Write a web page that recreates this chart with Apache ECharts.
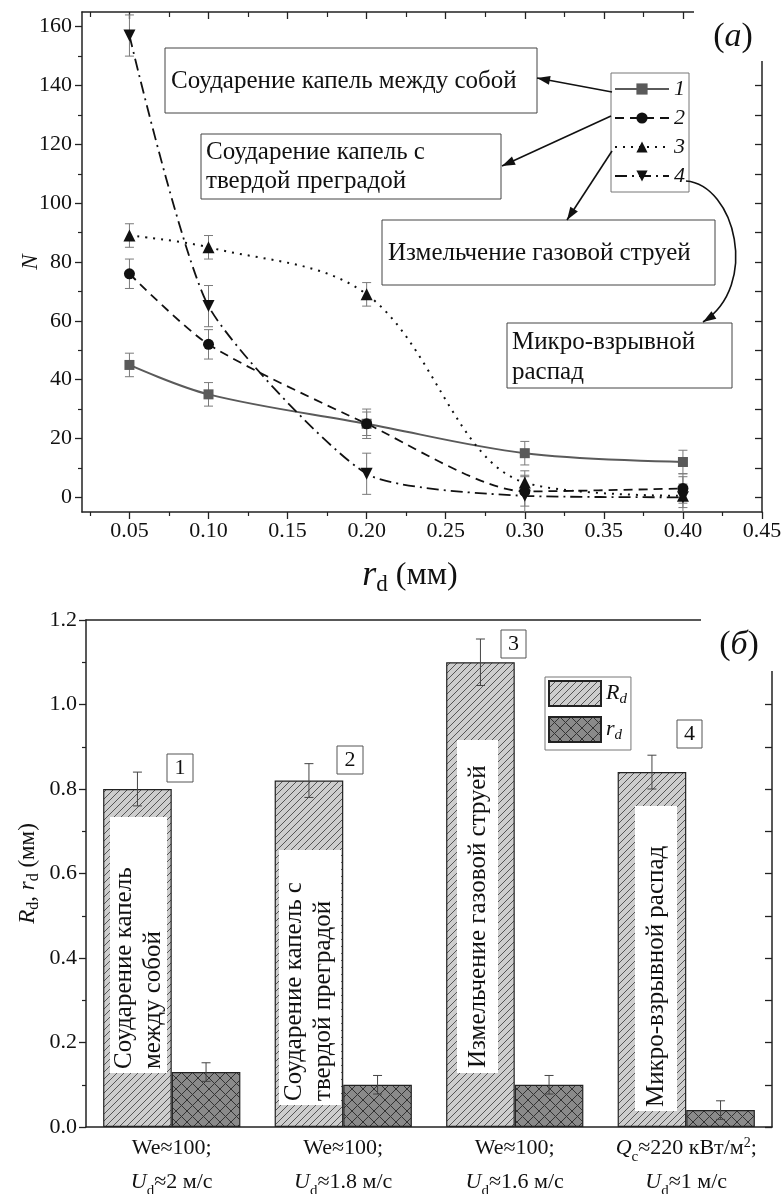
<!DOCTYPE html>
<html><head><meta charset="utf-8">
<script src="https://cdn.jsdelivr.net/npm/echarts@6/dist/echarts.min.js"></script>
<style>html,body{margin:0;padding:0;background:#fff}#c{width:782px;height:1194px}</style>
</head><body><div id="c"></div>
<script>
// ---------- Panel (а): number of child droplets N vs r_d ----------
const rdValues = [0.05, 0.10, 0.20, 0.30, 0.40];
const n1 = [45, 35, 25, 15, 12];
const n1Err = [4, 4, 4, 4, 4];
const n2 = [76, 52, 25, 2, 3];
const n2Err = [5, 5, 5, 5, 5];
const n3 = [89, 85, 69, 5, 0.5];
const n3Err = [4, 4, 4, 4, 4];
const n4 = [157, 65, 8, 0.5, 0];
const n4Err = [7, 7, 7, 7, 7];
const seriesNamesA = ['1', '2', '3', '4'];
const xTicksA = [0.05, 0.10, 0.15, 0.20, 0.25, 0.30, 0.35, 0.40, 0.45];
const xMinorA = [0.025, 0.075, 0.125, 0.175, 0.225, 0.275, 0.325, 0.375, 0.425];
const yTicksA = [0, 20, 40, 60, 80, 100, 120, 140, 160];
const yMinorA = [10, 30, 50, 70, 90, 110, 130, 150];
const yRightA = [0, 10, 20, 30, 40, 50, 60, 70, 80, 90, 100, 110, 120, 130, 140, 150, 160];
const annotA = ['Соударение капель между собой', 'Соударение капель с\nтвердой преградой', 'Измельчение газовой струей', 'Микро-взрывной\nраспад'];

// ---------- Panel (б): R_d, r_d per mechanism ----------
const categoriesB = ['We≈100;\nU_d≈2 м/с', 'We≈100;\nU_d≈1.8 м/с', 'We≈100;\nU_d≈1.6 м/с', 'Q_c≈220 кВт/м^2;\nU_d≈1 м/с'];
const bigR = [0.80, 0.82, 1.10, 0.84];
const bigRErr = [0.04, 0.04, 0.055, 0.04];
const smallR = [0.13, 0.10, 0.10, 0.04];
const smallRErr = [0.022, 0.022, 0.022, 0.022];
const seriesNamesB = ['R_d', 'r_d'];
const annotB = ['Соударение капель\nмежду собой', 'Соударение капель с\nтвердой преградой', 'Измельчение газовой струей', 'Микро-взрывной распад'];
const numbersB = ['1', '2', '3', '4'];

const SERIF = '"Liberation Serif","Times New Roman",serif';
const AX = '#222';

// rich text helper: "X_y" -> italic X + subscript y ; "^2" -> superscript
function toRich(s) {
  return s.split('\n').map(line => {
    let out = '', buf = '';
    const flush = () => { if (buf) { out += '{n|' + buf + '}'; buf = ''; } };
    for (let i = 0; i < line.length; i++) {
      const ch = line[i];
      if (line[i + 1] === '_') { flush(); out += '{i|' + ch + '}{s|' + line[i + 2] + '}'; i += 2; }
      else if (ch === '^') { flush(); out += '{p|' + line[i + 1] + '}'; i += 1; }
      else buf += ch;
    }
    flush();
    return out;
  }).join('\n');
}
function richStyles(size, lh, subItalic) {
  return {
    n: { fontFamily: SERIF, fontSize: size, lineHeight: lh, color: '#111' },
    i: { fontFamily: SERIF, fontSize: size, lineHeight: lh, fontStyle: 'italic', color: '#111' },
    s: { fontFamily: SERIF, fontSize: Math.round(size * 0.68), lineHeight: Math.round(size * 0.5), verticalAlign: 'bottom', color: '#111', fontStyle: subItalic ? 'italic' : 'normal' },
    p: { fontFamily: SERIF, fontSize: Math.round(size * 0.62), lineHeight: Math.round(size * 0.62), verticalAlign: 'middle', padding: [0, 0, Math.round(size * 0.4), 0], color: '#111' }
  };
}

function hatchPattern(bg, fg, step, cross, lw) {
  const c = document.createElement('canvas');
  c.width = step; c.height = step;
  const g = c.getContext('2d');
  g.fillStyle = bg; g.fillRect(0, 0, step, step);
  g.strokeStyle = fg; g.lineWidth = lw;
  g.beginPath();
  g.moveTo(-1, step + 1); g.lineTo(step + 1, -1);
  g.moveTo(-1, 1); g.lineTo(1, -1);
  g.moveTo(step - 1, step + 1); g.lineTo(step + 1, step - 1);
  if (cross) {
    g.moveTo(-1, -1); g.lineTo(step + 1, step + 1);
    g.moveTo(step - 1, -1); g.lineTo(step + 1, 1);
    g.moveTo(-1, step - 1); g.lineTo(1, step + 1);
  }
  g.stroke();
  return { image: c, repeat: 'repeat' };
}

function errorSeriesXY(xs, ys, es, color) {
  return {
    type: 'custom', xAxisIndex: 0, yAxisIndex: 0, clip: true, silent: true, z: 2,
    data: xs.map((x, i) => [x, ys[i], es[i]]),
    renderItem: (params, api) => {
      const x = api.value(0), y = api.value(1), e = api.value(2);
      const t = api.coord([x, y + e]), b = api.coord([x, y - e]);
      const w = 4.5, st = { stroke: color, lineWidth: 1 };
      return { type: 'group', children: [
        { type: 'line', shape: { x1: t[0], y1: t[1], x2: b[0], y2: b[1] }, style: st },
        { type: 'line', shape: { x1: t[0] - w, y1: t[1], x2: t[0] + w, y2: t[1] }, style: st },
        { type: 'line', shape: { x1: b[0] - w, y1: b[1], x2: b[0] + w, y2: b[1] }, style: st }
      ] };
    }
  };
}
function errorSeriesBar(vals, errs, side) {
  return {
    type: 'custom', xAxisIndex: 3, yAxisIndex: 3, silent: true, z: 5,
    data: vals.map((v, i) => [i, v, errs[i]]),
    renderItem: (params, api) => {
      const i = api.value(0), v = api.value(1), e = api.value(2);
      const bw = api.size([1, 0])[0];
      const dx = side * bw * 0.2;
      const t = api.coord([i, v + e]), b = api.coord([i, v - e]);
      const x = t[0] + dx, w = 4.5, st = { stroke: '#444', lineWidth: 1 };
      return { type: 'group', children: [
        { type: 'line', shape: { x1: x, y1: t[1], x2: x, y2: b[1] }, style: st },
        { type: 'line', shape: { x1: x - w, y1: t[1], x2: x + w, y2: t[1] }, style: st },
        { type: 'line', shape: { x1: x - w, y1: b[1], x2: x + w, y2: b[1] }, style: st }
      ] };
    }
  };
}

// ---- graphic helpers (annotations) ----
function rectBox(x, y, w, h, stroke) {
  return { type: 'rect', z: 100, shape: { x, y, width: w, height: h },
    style: { fill: '#fff', stroke: stroke || 'none', lineWidth: 1 } };
}
function label(x, y, text, size, opt) {
  opt = opt || {};
  return { type: 'text', z: 101, x, y, rotation: opt.rotation || 0,
    style: { text, fontFamily: SERIF, fontSize: size, fill: '#111', align: opt.align || 'left',
      verticalAlign: 'middle', lineHeight: opt.lh || size * 1.2, fontStyle: opt.italic ? 'italic' : 'normal',
      rich: opt.rich } };
}
function arrowHead(tx, ty, fx, fy) {
  const dx = tx - fx, dy = ty - fy, L = Math.hypot(dx, dy), ux = dx / L, uy = dy / L;
  const hl = 13, hw = 4.5, bx = tx - ux * hl, by = ty - uy * hl;
  return { type: 'polygon', z: 102, shape: { points: [[tx, ty], [bx - uy * hw, by + ux * hw], [bx + uy * hw, by - ux * hw]] },
    style: { fill: '#111' } };
}
function arrow(x1, y1, x2, y2) {
  return [
    { type: 'line', z: 102, shape: { x1, y1, x2, y2 }, style: { stroke: '#111', lineWidth: 1.6 } },
    arrowHead(x2, y2, x1, y1)
  ];
}

const graphics = [
  // panel label (а)
  rectBox(694, 0, 88, 61),
  label(733, 37, '{n|(}{i|а}{n|)}', 34, { align: 'center', rich: richStyles(34, 40) }),
  // annotation boxes of panel (а)
  rectBox(165, 48, 372, 65, '#444'), label(171, 81, annotA[0], 25),
  rectBox(201, 134, 300, 65, '#444'), label(206, 167, annotA[1], 25, { lh: 29 }),
  rectBox(382, 220, 333, 65, '#444'), label(388, 253, annotA[2], 25),
  rectBox(507, 323, 225, 65, '#444'), label(512, 357, annotA[3], 25, { lh: 30 }),
  ...arrow(612, 92, 537, 78),
  ...arrow(611, 116, 502, 166),
  ...arrow(612, 151, 567, 220),
  { type: 'bezierCurve', z: 102, shape: { x1: 686, y1: 181, cpx1: 735, cpy1: 185, cpx2: 760, cpy2: 285, x2: 703, y2: 322 },
    style: { stroke: '#111', lineWidth: 1.6, fill: 'none' } },
  arrowHead(703, 322, 760, 285),
  // panel label (б)
  rectBox(701, 605, 81, 66),
  label(739, 645, '{n|(}{i|б}{n|)}', 34, { align: 'center', rich: richStyles(34, 40) }),
  // text boxes inside the R_d bars
  rectBox(110, 817, 57, 256), label(139, 1069, annotB[0], 25, { rotation: Math.PI / 2, lh: 29 }),
  rectBox(279, 850, 62, 255), label(309, 1101, annotB[1], 25, { rotation: Math.PI / 2, lh: 29 }),
  rectBox(457, 740, 41, 333), label(478, 1068, annotB[2], 25, { rotation: Math.PI / 2 }),
  rectBox(635, 806, 42, 305), label(656, 1107, annotB[3], 25, { rotation: Math.PI / 2 }),
  // number boxes
  rectBox(167, 754, 26, 28, '#555'), label(180, 768, numbersB[0], 22, { align: 'center' }),
  rectBox(337, 746, 26, 28, '#555'), label(350, 760, numbersB[1], 22, { align: 'center' }),
  rectBox(501, 630, 25, 28, '#555'), label(513.5, 644, numbersB[2], 22, { align: 'center' }),
  rectBox(677, 720, 25, 28, '#555'), label(689.5, 734, numbersB[3], 22, { align: 'center' })
];

const lineDefs = [
  { ys: n1, es: n1Err, color: '#5a5a5a', type: 'solid', width: 2, symbol: 'rect', size: 10, smooth: 0.35 },
  { ys: n2, es: n2Err, color: '#111', type: [9, 6], width: 1.8, symbol: 'circle', size: 11, smooth: 0.25 },
  { ys: n3, es: n3Err, color: '#111', type: [2, 6], width: 2, symbol: 'triangle', size: 12, smooth: 0.35 },
  { ys: n4, es: n4Err, color: '#111', type: [12, 5, 2, 5], width: 1.8, symbol: 'path://M0,0L2,0L1,1.8Z', size: 12, smooth: 0.2 }
];

const series = [];
lineDefs.forEach((d, k) => series.push(errorSeriesXY(rdValues, d.ys, d.es, '#7a7a7a')));
lineDefs.forEach((d, k) => series.push({
  type: 'line', name: seriesNamesA[k], xAxisIndex: 0, yAxisIndex: 0, z: 3,
  data: rdValues.map((x, i) => [x, d.ys[i]]),
  smooth: d.smooth, symbol: d.symbol, symbolSize: d.size, showAllSymbol: true,
  itemStyle: { color: d.color, borderWidth: 0 },
  lineStyle: { color: d.color, type: d.type, width: d.width }
}));
series.push({
  type: 'bar', name: seriesNamesB[0], xAxisIndex: 3, yAxisIndex: 3, data: bigR,
  barWidth: '40%', barGap: '0%',
  itemStyle: { color: hatchPattern('#cdcdcd', '#555', 7, false, 1), borderColor: '#222', borderWidth: 1.2 }
});
series.push({
  type: 'bar', name: seriesNamesB[1], xAxisIndex: 3, yAxisIndex: 3, data: smallR,
  barWidth: '40%', barGap: '0%',
  itemStyle: { color: hatchPattern('#8a8a8a', '#333', 11, true, 1), borderColor: '#222', borderWidth: 1.2 }
});
series.push(errorSeriesBar(bigR, bigRErr, -1));
series.push(errorSeriesBar(smallR, smallRErr, 1));

const lineAx = { show: true, onZero: false, lineStyle: { color: AX, width: 1.5 } };
const noLabel = { show: false };
const tickLbl = { fontFamily: SERIF, fontSize: 22, color: '#111' };

const option = {
  animation: false,
  backgroundColor: '#fff',
  grid: [
    { left: 82, top: 12, width: 680, height: 500, containLabel: false, outerBoundsMode: 'none' },
    { left: 86, top: 620, width: 686, height: 507, containLabel: false, outerBoundsMode: 'none' }
  ],
  xAxis: [
    { // 0: panel а bottom, major
      type: 'value', gridIndex: 0, position: 'bottom', min: 0.02, max: 0.45,
      axisLine: lineAx, splitLine: { show: false },
      axisTick: { show: true, length: 7, lineStyle: { color: AX, width: 1.3 }, customValues: xTicksA },
      axisLabel: { ...tickLbl, margin: 8, customValues: xTicksA, formatter: v => v.toFixed(2) },
      name: '{i|r}{s|d}{n| (мм)}', nameLocation: 'middle', nameGap: 44, nameMoveOverlap: false,
      nameTextStyle: { padding: [0, 24, 0, 0], rich: { ...richStyles(32, 40), s: { fontFamily: SERIF, fontSize: 23, lineHeight: 16, verticalAlign: 'bottom', color: '#111' }, i: { fontFamily: SERIF, fontSize: 36, lineHeight: 40, fontStyle: 'italic', color: '#111' } } }
    },
    { // 1: panel а bottom, minor
      type: 'value', gridIndex: 0, position: 'bottom', min: 0.02, max: 0.45,
      axisLine: { show: false, onZero: false }, splitLine: { show: false }, axisLabel: noLabel,
      axisTick: { show: true, length: 4, lineStyle: { color: AX, width: 1.2 }, customValues: xMinorA }
    },
    { // 2: panel а top, inward ticks
      type: 'value', gridIndex: 0, position: 'top', min: 0.02, max: 0.45,
      axisLine: lineAx, splitLine: { show: false }, axisLabel: noLabel,
      axisTick: { show: true, inside: true, length: 7, lineStyle: { color: AX, width: 1.3 }, customValues: xTicksA }
    },
    { // 3: panel б categories
      type: 'category', gridIndex: 1, position: 'bottom', data: categoriesB,
      axisLine: lineAx, axisTick: { show: false }, splitLine: { show: false },
      axisLabel: { margin: 4, interval: 0, formatter: v => toRich(v), rich: richStyles(22, 34) }
    },
    { // 4: panel б top line
      type: 'value', gridIndex: 1, position: 'top', min: 0, max: 1,
      axisLine: lineAx, axisTick: { show: false }, axisLabel: noLabel, splitLine: { show: false }
    },
    { // 5: panel а top, minor inward
      type: 'value', gridIndex: 0, position: 'top', min: 0.02, max: 0.45,
      axisLine: { show: false, onZero: false }, splitLine: { show: false }, axisLabel: noLabel,
      axisTick: { show: true, inside: true, length: 5, lineStyle: { color: AX, width: 1.2 }, customValues: xMinorA }
    }
  ],
  yAxis: [
    { // 0: panel а left major
      type: 'value', gridIndex: 0, position: 'left', min: -5, max: 165,
      axisLine: lineAx, splitLine: { show: false },
      axisTick: { show: true, length: 7, lineStyle: { color: AX, width: 1.3 }, customValues: yTicksA },
      axisLabel: { ...tickLbl, margin: 10, customValues: yTicksA },
      name: 'N', nameLocation: 'middle', nameGap: 40, nameRotate: 90, nameMoveOverlap: false,
      nameTextStyle: { fontFamily: SERIF, fontSize: 23, fontStyle: 'italic', color: '#111' }
    },
    { // 1: panel а left minor
      type: 'value', gridIndex: 0, position: 'left', min: -5, max: 165,
      axisLine: { show: false, onZero: false }, splitLine: { show: false }, axisLabel: noLabel,
      axisTick: { show: true, length: 4, lineStyle: { color: AX, width: 1.2 }, customValues: yMinorA }
    },
    { // 2: panel а right
      type: 'value', gridIndex: 0, position: 'right', min: -5, max: 165,
      axisLine: lineAx, splitLine: { show: false }, axisLabel: noLabel,
      axisTick: { show: true, inside: true, length: 7, lineStyle: { color: AX, width: 1.3 }, customValues: yRightA }
    },
    { // 3: panel б left
      type: 'value', gridIndex: 1, position: 'left', min: 0, max: 1.2, interval: 0.2,
      axisLine: lineAx, splitLine: { show: false },
      axisTick: { show: true, length: 7, lineStyle: { color: AX, width: 1.3 } },
      minorTick: { show: true, splitNumber: 2, length: 4, lineStyle: { color: AX, width: 1.2 } },
      minorSplitLine: { show: false },
      axisLabel: { ...tickLbl, margin: 9, formatter: v => v.toFixed(1) },
      name: toRich('R_d, r_d (мм)'), nameLocation: 'middle', nameGap: 44, nameRotate: 90, nameMoveOverlap: false,
      nameTextStyle: { rich: richStyles(23, 28) }
    },
    { // 4: panel б right
      type: 'value', gridIndex: 1, position: 'right', min: 0, max: 1.2, interval: 0.1,
      axisLine: lineAx, splitLine: { show: false }, axisLabel: noLabel,
      axisTick: { show: true, inside: true, length: 7, lineStyle: { color: AX, width: 1.3 } }
    }
  ],
  legend: [
    {
      data: seriesNamesA, left: 611, top: 73, orient: 'vertical',
      itemWidth: 54, itemHeight: 14, itemGap: 5, padding: [4, 4, 4, 3],
      borderColor: '#777', borderWidth: 1, backgroundColor: '#fff',
      textStyle: { fontFamily: SERIF, fontSize: 22, fontStyle: 'italic', color: '#111', lineHeight: 24 },
      selectedMode: false
    },
    {
      data: seriesNamesB, left: 545, top: 677, orient: 'vertical', icon: 'rect',
      itemWidth: 52, itemHeight: 25, itemGap: 9, padding: [3, 4, 7, 3],
      borderColor: '#777', borderWidth: 1, backgroundColor: '#fff',
      formatter: n => toRich(n), textStyle: { rich: richStyles(22, 26, true) },
      selectedMode: false
    }
  ],
  series,
  graphic: { elements: graphics }
};

const chart = echarts.init(document.getElementById('c'), null, { renderer: 'canvas', width: 782, height: 1194 });
chart.setOption(option);
</script>
</body></html>
